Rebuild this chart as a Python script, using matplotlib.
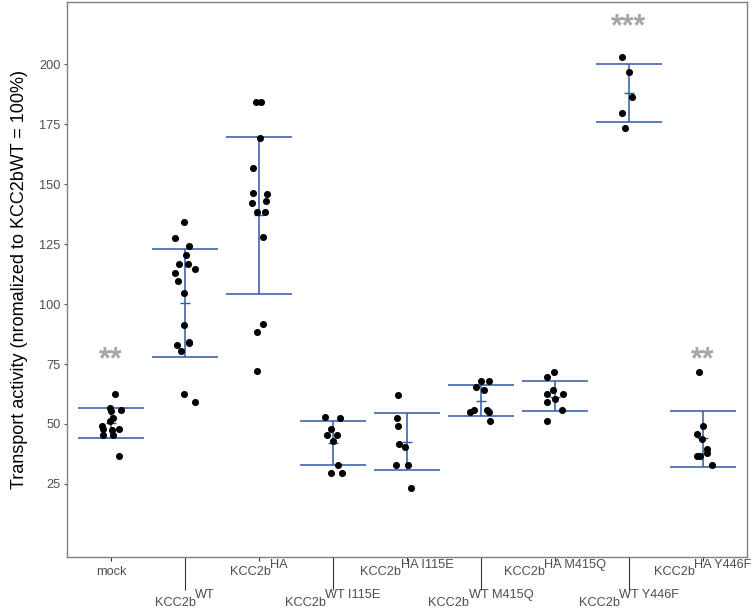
import matplotlib
matplotlib.use('Agg')
import matplotlib.pyplot as plt
import matplotlib.transforms as mtransforms
import numpy as np

# ---------------- data ----------------
categories = ['mock', 'KCC2b WT', 'KCC2b HA', 'KCC2b WT I115E', 'KCC2b HA I115E',
              'KCC2b WT M415Q', 'KCC2b HA M415Q', 'KCC2b WT Y446F', 'KCC2b HA Y446F']

# tick labels: base text and superscript part
label_base = ['mock', 'KCC2b', 'KCC2b', 'KCC2b', 'KCC2b', 'KCC2b', 'KCC2b', 'KCC2b', 'KCC2b']
label_sup = ['', 'WT', 'HA', 'WT I115E', 'HA I115E', 'WT M415Q', 'HA M415Q',
             'WT Y446F', 'HA Y446F']

mock = [62.5, 56.8, 55.5, 55.7, 52.5, 51.4, 49.0, 47.8, 47.5, 47.8, 45.5, 45.5, 36.7]
wt = [134.2, 127.6, 124.2, 120.4, 116.9, 116.8, 114.6, 113.1, 109.6, 104.7, 91.3,
      82.9, 83.6, 84.2, 80.4, 62.5, 59.2]
ha = [184.3, 184.3, 169.3, 156.9, 146.5, 145.8, 142.2, 142.9, 138.6, 138.6, 127.8,
      91.7, 88.3, 72.1]
wt_i115e = [52.8, 52.5, 47.8, 45.3, 45.3, 42.9, 32.9, 29.4, 29.4]
ha_i115e = [62.2, 52.5, 49.0, 41.7, 40.4, 33.0, 33.0, 23.1]
wt_m415q = [67.9, 67.9, 65.5, 64.0, 55.8, 55.0, 55.8, 55.0, 51.3]
ha_m415q = [71.5, 69.4, 64.2, 62.4, 62.4, 60.3, 59.2, 55.8, 51.3]
wt_y446f = [203.0, 196.8, 186.3, 179.9, 173.3]
ha_y446f = [71.7, 49.2, 46.0, 43.9, 39.7, 37.8, 36.8, 36.8, 32.9]

# horizontal jitter of each point (category units)
mock_jit = [0.06, -0.01, 0.0, 0.13, 0.03, -0.01, -0.12, -0.11, 0.01, 0.11, -0.11, 0.02, 0.11]
wt_jit = [-0.02, -0.13, 0.05, 0.02, -0.08, 0.04, 0.13, -0.13, -0.09, -0.02, -0.02,
          -0.11, 0.06, 0.05, -0.06, -0.02, 0.14]
ha_jit = [-0.04, 0.03, 0.02, -0.08, -0.08, 0.11, -0.09, 0.09, -0.03, 0.08, 0.05,
          0.06, -0.02, -0.03]
wt_i115e_jit = [-0.11, 0.10, -0.02, -0.08, 0.05, 0.0, 0.07, -0.03, 0.12]
ha_i115e_jit = [-0.12, -0.13, -0.12, -0.11, -0.03, -0.14, 0.02, 0.06]
wt_m415q_jit = [0.0, 0.11, -0.07, 0.04, -0.09, -0.14, 0.09, 0.11, 0.13]
ha_m415q_jit = [-0.01, -0.11, -0.03, -0.10, 0.11, 0.01, -0.10, 0.10, -0.10]
wt_y446f_jit = [-0.09, 0.01, 0.04, -0.09, -0.05]
ha_y446f_jit = [-0.05, 0.01, -0.07, -0.01, 0.06, 0.06, -0.08, -0.04, 0.13]

values = [mock, wt, ha, wt_i115e, ha_i115e, wt_m415q, ha_m415q, wt_y446f, ha_y446f]
jitter = [mock_jit, wt_jit, ha_jit, wt_i115e_jit, ha_i115e_jit, wt_m415q_jit,
          ha_m415q_jit, wt_y446f_jit, ha_y446f_jit]

# error bars (mean and mean +/- SD) as drawn in the reference
bar_low = [44.3, 77.8, 104.4, 32.8, 30.8, 53.3, 55.6, 175.8, 32.2]
bar_mean = [50.3, 100.3, 137.1, 42.0, 42.6, 59.7, 61.4, 187.9, 44.0]
bar_high = [56.8, 122.9, 169.7, 51.4, 54.7, 66.3, 68.1, 200.0, 55.6]

# significance marks
sig_labels = ['**', '', '', '', '', '', '', '***', '**']
sig_y = [76.5, 0, 0, 0, 0, 0, 0, 215.5, 76.5]

y_ticks = [25, 50, 75, 100, 125, 150, 175, 200]
y_label = 'Transport activity (nromalized to KCC2bWT = 100%)'

# ---------------- drawing ----------------
plt.rcParams['font.family'] = ['Liberation Sans', 'DejaVu Sans']

DPI = 100
fig = plt.figure(figsize=(7.55, 6.08), dpi=DPI)
ax = fig.add_axes([0.0883, 0.0839, 0.9011, 0.9128])

positions = np.arange(1, len(categories) + 1)
bar_color = '#2F58A8'
half_w = 0.445
mean_half = 0.07

ax.hlines(bar_high, positions - half_w, positions + half_w, color=bar_color, lw=1.1, zorder=2)
ax.hlines(bar_low, positions - half_w, positions + half_w, color=bar_color, lw=1.1, zorder=2)
ax.vlines(positions, bar_low, bar_high, color=bar_color, lw=1.1, zorder=2)
ax.hlines(bar_mean, positions - mean_half, positions + mean_half, color=bar_color, lw=1.0, zorder=2)

xs, ys = [], []
for p, vals, jit in zip(positions, values, jitter):
    xs.extend(p + np.array(jit))
    ys.extend(vals)
ax.scatter(xs, ys, s=26, color='black', linewidths=0, zorder=3)

for p, lab, yv in zip(positions, sig_labels, sig_y):
    if lab:
        ax.text(p, yv, lab, ha='center', va='center', fontsize=22, fontweight='bold',
                color='#A6A6A6', zorder=4)

ax.set_xlim(0.4, 9.6)
ax.set_ylim(-5.5, 226)

# x ticks: short ticks on odd categories, long ticks on even ones
ax.set_xticks(positions[0::2])
ax.set_xticks(positions[1::2], minor=True)
ax.tick_params(axis='x', which='major', length=3, width=0.8, color='#333333', labelbottom=False)
ax.tick_params(axis='x', which='minor', length=24, width=0.8, color='#333333', labelbottom=False)

# staggered tick labels with full-size raised superscripts
label_size = 9.2
label_color = '#4D4D4D'
row_baseline = [-18.5, -49.0]   # pixels below the axes bottom
sup_raise = 7.5
sup_gap = -0.8
renderer = fig.canvas.get_renderer()
blend = mtransforms.blended_transform_factory(ax.transData, ax.transAxes)
for i, (p, base, sup) in enumerate(zip(positions, label_base, label_sup)):
    dy = row_baseline[i % 2]
    t1 = ax.text(p, 0, base, transform=blend, ha='left', va='baseline',
                 fontsize=label_size, color=label_color, clip_on=False)
    w1 = t1.get_window_extent(renderer).width
    w2 = 0.0
    t2 = None
    if sup:
        t2 = ax.text(p, 0, sup, transform=blend, ha='left', va='baseline',
                     fontsize=label_size, color=label_color, clip_on=False)
        w2 = t2.get_window_extent(renderer).width + sup_gap
    start = -(w1 + w2) / 2.0
    t1.set_transform(blend + mtransforms.ScaledTranslation(start / DPI, dy / DPI, fig.dpi_scale_trans))
    if t2 is not None:
        t2.set_transform(blend + mtransforms.ScaledTranslation((start + w1 + sup_gap) / DPI,
                                                               (dy + sup_raise) / DPI,
                                                               fig.dpi_scale_trans))

ax.set_yticks(y_ticks)
ax.set_yticklabels([str(t) for t in y_ticks])
ax.tick_params(axis='y', length=2.5, width=0.8, color='#555555', pad=2,
               labelsize=label_size, labelcolor=label_color)

for sp in ax.spines.values():
    sp.set_color('#808080')
    sp.set_linewidth(1.0)

ax.set_ylabel(y_label, fontsize=13, color='black')
ax.yaxis.set_label_coords(-0.057, 0.5)

fig.savefig('out.png', dpi=DPI)
